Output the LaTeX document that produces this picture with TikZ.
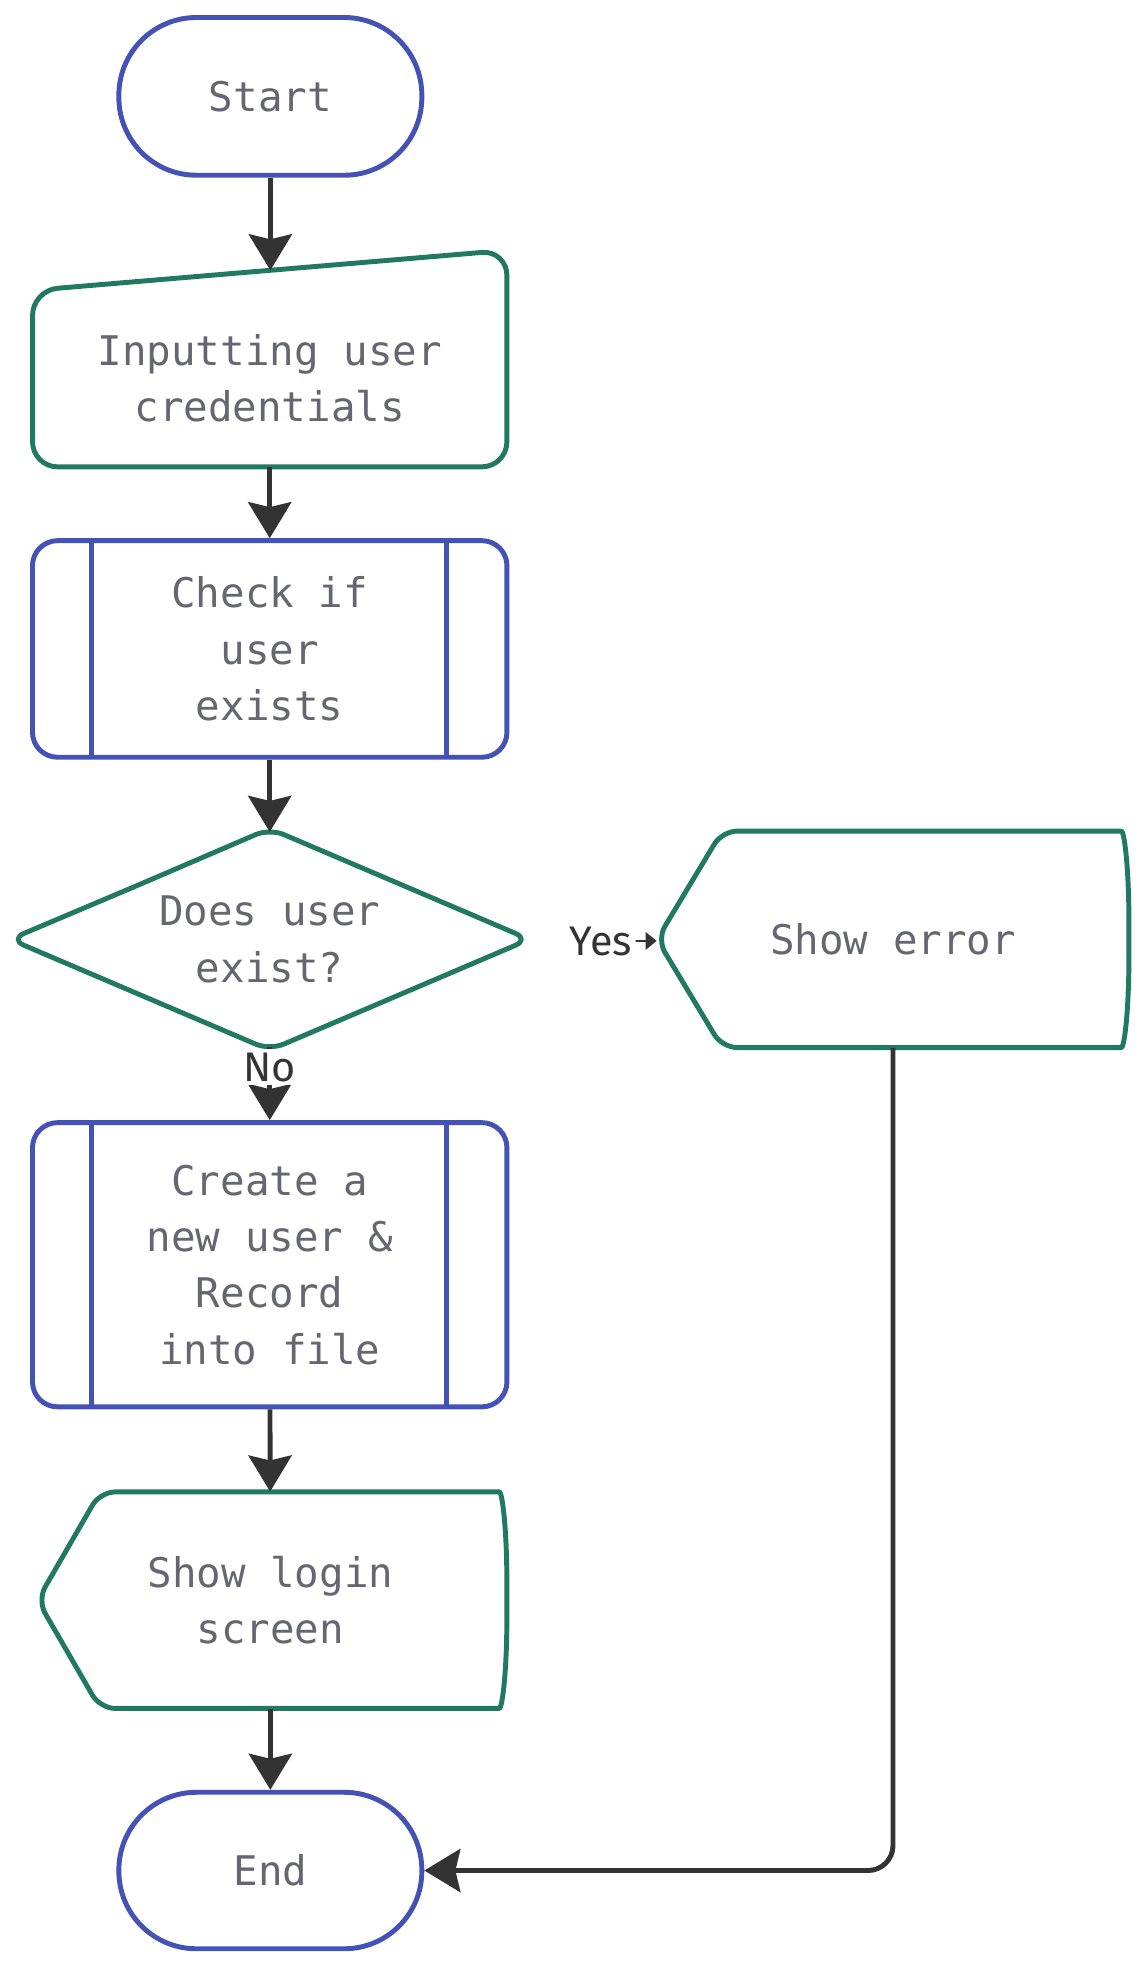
\documentclass[tikz,border=0pt]{standalone}
\usepackage{fontspec}
\setmonofont{DejaVu Sans Mono}
\setsansfont{Fira Sans}
\usetikzlibrary{arrows.meta}
\definecolor{flowblue}{HTML}{4451B5}
\definecolor{flowgreen}{HTML}{217A60}
\definecolor{flowtext}{HTML}{666670}
\definecolor{flowline}{HTML}{333333}

\begin{document}
\begin{tikzpicture}[x=0.025cm, y=-0.025cm,
  txt/.style={font=\ttfamily\fontsize{23.2pt}{32pt}\selectfont, text=flowtext, align=center, inner sep=0pt},
  edgelabel/.style={font=\sffamily\fontsize{23.5pt}{28pt}\selectfont, text=flowline, fill=white, inner sep=2pt},
  outline/.style={line width=2.8pt, line join=round},
  conn/.style={line width=2.8pt, flowline, -{Stealth[length=0.72cm, width=0.86cm, inset=0.1cm]}}]
\useasboundingbox (0,0) rectangle (915,1570);
%
\node[txt, draw=flowblue, outline, rounded corners=1.55cm, minimum width=6.05cm, minimum height=3.15cm] (start) at (216,77) {Start};
%
\node[txt, minimum width=9.475cm, minimum height=3.525cm] (input) at (215.5,302.5) {Inputting user\\credentials};
\draw[outline, flowgreen, rounded corners=0.5cm] (215.5,373) -- (26,373) -- (26,232) -- (405,200) -- (405,373) -- cycle;
\coordinate (intop) at (216,216);
%
\node[txt, draw=flowblue, outline, rounded corners=0.5cm, minimum width=9.475cm, minimum height=4.325cm] (check) at (215.5,518.5) {Check if\\user\\exists};
\draw[outline, flowblue] (73,432) -- (73,605) (357,432) -- (357,605);
%
\node[txt, minimum width=10.075cm, minimum height=4.275cm] (exist) at (215.5,750.5) {Does user\\exist?};
\draw[outline, flowgreen, rounded corners=0.3cm] (112,706.5) -- (215.5,662) -- (423,750.5) -- (215.5,839) -- (8,750.5) -- cycle;
%
\node[txt, minimum width=9.425cm, minimum height=4.325cm] (error) at (713.5,750.5) {Show error};
\draw[outline, flowgreen, rounded corners=0.3cm] (700,837) -- (577,837) -- (525,750.5) -- (577,664) -- (884,664)
  .. controls (898,664) and (902,690) .. (902,750.5) .. controls (902,811) and (898,837) .. (884,837) -- cycle;
%
\node[txt, draw=flowblue, outline, rounded corners=0.5cm, minimum width=9.475cm, minimum height=5.675cm] (create) at (215.5,1010.5) {Create a\\new user \&\\Record\\into file};
\draw[outline, flowblue] (73,897) -- (73,1124) (357,897) -- (357,1124);
%
\node[txt, minimum width=9.45cm, minimum height=4.325cm] (login) at (216,1278.5) {Show login\\screen};
\draw[outline, flowgreen, rounded corners=0.3cm] (300,1365) -- (80,1365) -- (30,1278.5) -- (80,1192) -- (387,1192)
  .. controls (401,1192) and (405,1218) .. (405,1278.5) .. controls (405,1339) and (401,1365) .. (387,1365) -- cycle;
%
\node[txt, draw=flowblue, outline, rounded corners=1.55cm, minimum width=6.05cm, minimum height=3.125cm] (stop) at (216,1494.5) {End};
%
\draw[conn] (start) -- (intop);
\draw[conn] (input) -- (check);
\draw[conn] (check) -- (exist);
\draw[conn] (exist) -- node[edgelabel, pos=0.28] {No} (create);
\draw[conn] (create) -- (login);
\draw[conn] (login) -- (stop);
\draw[conn, rounded corners=0.5cm] (error) |- (stop);
%
\node[edgelabel] (yes) at (480,752) {Yes};
\draw[flowline, line width=1pt, -{Triangle[length=0.22cm, width=0.35cm]}] (yes) -- (error);
\end{tikzpicture}
\end{document}
